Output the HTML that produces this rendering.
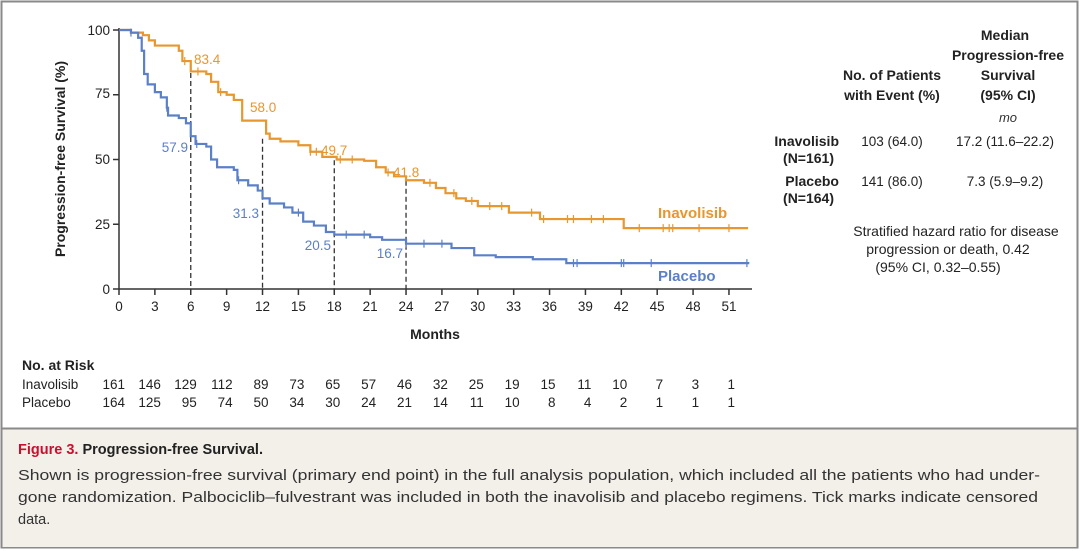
<!DOCTYPE html>
<html><head><meta charset="utf-8"><style>
body{margin:0;background:#fff;}
svg{display:block;font-family:"Liberation Sans",sans-serif;}
</style></head><body>
<svg id="s" width="1080" height="551" viewBox="0 0 1080 551" xmlns="http://www.w3.org/2000/svg">
<rect x="0" y="0" width="1080" height="551" fill="#fff"/>
<rect x="1.5" y="1.5" width="1076" height="546" fill="none" stroke="#8a8a8a" stroke-width="2"/>
<rect x="2.5" y="428.5" width="1074" height="118.5" fill="#f3efe9"/>
<line x1="1.5" y1="428.5" x2="1078" y2="428.5" stroke="#8a8a8a" stroke-width="2"/>
<g id="plot"></g>
<g font-size="13.5" fill="#222">
<text x="119" y="304" text-anchor="middle" id="xt"></text>
</g>
<text x="435" y="339" text-anchor="middle" font-size="14" font-weight="bold" fill="#222">Months</text>
<text transform="translate(65,159) rotate(-90)" text-anchor="middle" font-size="14" font-weight="bold" fill="#222">Progression-free Survival (%)</text>
<g font-size="13.5" fill="#222" text-anchor="end">
<text x="110" y="35">100</text><text x="110" y="98">75</text><text x="110" y="164">50</text><text x="110" y="229">25</text><text x="110" y="294">0</text>
</g>
<text x="658" y="218" font-size="15" font-weight="bold" fill="#e8962e">Inavolisib</text>
<text x="658" y="281" font-size="15" font-weight="bold" fill="#5b80c8">Placebo</text>
<g font-size="13.5" fill="#e8962e">
<text x="194" y="64">83.4</text><text x="250" y="112">58.0</text><text x="321" y="155">49.7</text><text x="393" y="177">41.8</text>
</g>
<g font-size="13.5" fill="#5b80c8" text-anchor="end">
<text x="188" y="152">57.9</text><text x="259" y="218">31.3</text><text x="331" y="250">20.5</text><text x="403" y="258">16.7</text>
</g>
<g font-size="14" fill="#222" font-weight="bold" text-anchor="middle">
<text x="1005" y="40">Median</text>
<text x="1008" y="60">Progression-free</text>
<text x="892" y="80">No. of Patients</text><text x="1008" y="80">Survival</text>
<text x="892" y="100">with Event (%)</text><text x="1008" y="100">(95% CI)</text>
</g>
<text x="1008" y="122" font-size="13" font-style="italic" fill="#333" text-anchor="middle">mo</text>
<g font-size="14" fill="#222" font-weight="bold" text-anchor="end">
<text x="839" y="146">Inavolisib</text><text x="834" y="163">(N=161)</text>
<text x="839" y="186">Placebo</text><text x="834" y="203">(N=164)</text>
</g>
<g font-size="13.5" fill="#222" text-anchor="middle">
<text x="892" y="146">103 (64.0)</text><text x="1005" y="146">17.2 (11.6–22.2)</text>
<text x="892" y="186">141 (86.0)</text><text x="1005" y="186">7.3 (5.9–9.2)</text>
</g>
<g font-size="14" fill="#222" text-anchor="middle">
<text x="956" y="236">Stratified hazard ratio for disease</text>
<text x="948" y="254">progression or death, 0.42</text>
<text x="938" y="272">(95% CI, 0.32–0.55)</text>
</g>
<text x="22" y="370" font-size="14" font-weight="bold" fill="#222">No. at Risk</text>
<text x="22" y="389" font-size="13.5" fill="#222">Inavolisib</text>
<text x="22" y="407" font-size="13.5" fill="#222">Placebo</text>
<g id="risk" font-size="13.5" fill="#222" text-anchor="end"></g>
<text x="18" y="454" font-size="14.5" font-weight="bold"><tspan fill="#c8102e">Figure 3.</tspan><tspan fill="#222"> Progression-free Survival.</tspan></text>
<g font-size="14.5" fill="#333">
<text x="18" y="480" textLength="1022" lengthAdjust="spacingAndGlyphs">Shown is progression-free survival (primary end point) in the full analysis population, which included all the patients who had under-</text>
<text x="18" y="502" textLength="1020" lengthAdjust="spacingAndGlyphs">gone randomization. Palbociclib–fulvestrant was included in both the inavolisib and placebo regimens. Tick marks indicate censored</text>
<text x="18" y="524">data.</text>
</g>
</svg>
<script>
var NS="http://www.w3.org/2000/svg";
function X(m){return 119+m*11.96;}
function Y(p){return 289-p*2.59;}
var g=document.getElementById('plot');
function el(t,a,p){var e=document.createElementNS(NS,t);for(var k in a)e.setAttribute(k,a[k]);(p||g).appendChild(e);return e;}
el('line',{x1:119,y1:28,x2:119,y2:289,stroke:'#333','stroke-width':1.5});
el('line',{x1:119,y1:289,x2:752,y2:289,stroke:'#333','stroke-width':1.5});
[0,25,50,75,100].forEach(function(p){el('line',{x1:113,y1:Y(p),x2:119,y2:Y(p),stroke:'#333','stroke-width':1.5});});
var xl=document.getElementById('xt').parentNode;
for(var m=0;m<=51;m+=3){el('line',{x1:X(m),y1:289,x2:X(m),y2:295,stroke:'#333','stroke-width':1.5});
var t=el('text',{x:X(m),y:311,'text-anchor':'middle'},xl);t.textContent=m;}
[[6,83.4],[12,58],[18,49.7],[24,41.8]].forEach(function(d){el('line',{x1:X(d[0]),y1:Y(d[1]),x2:X(d[0]),y2:289,stroke:'#333','stroke-width':1.3,'stroke-dasharray':'5,3'});});
function step(pts,col,cens){var d='M'+X(pts[0][0])+','+Y(pts[0][1]);
for(var i=1;i<pts.length;i++){d+=' H'+X(pts[i][0])+' V'+Y(pts[i][1]);}
el('path',{d:d,fill:'none',stroke:col,'stroke-width':2.2});
cens.forEach(function(c){var v=val(pts,c);el('line',{x1:X(c),y1:Y(v)-4,x2:X(c),y2:Y(v)+4,stroke:col,'stroke-width':1.2});});}
function val(p,m){var v=p[0][1];for(var i=0;i<p.length;i++){if(p[i][0]<=m)v=p[i][1];}return v;}
var inv=[[0,100],[1,99],[2,98],[2.5,96],[3,94],[5,92],[5.3,88],[6,84],[7.3,83],[7.7,80],[8.3,76],[9,75],[9.6,73],[10.3,65],[11.8,65],[12.3,60],[12.6,58],[13.5,57],[15,55.5],[16,53],[17,51],[18.2,50],[20.5,49.5],[21.5,47],[22.3,45],[23,43.5],[24,42],[25.5,41],[26.5,39],[27.3,37],[28.2,35],[29,34],[30,32],[32.4,32],[32.6,29.5],[35,29.5],[35.2,27],[42,27],[42.2,23.5],[52.6,23.5]];
var pla=[[0,100],[1,99],[1.6,97],[1.9,92],[2.1,83],[2.4,79],[3,76],[3.5,74],[4,70],[4.1,67],[5,66],[5.6,64],[6,59],[6.4,56],[7.3,55],[7.7,50],[8.2,47],[9.6,46],[9.9,42],[10.8,40],[11.6,38],[12,35],[12.6,33],[13.8,31.5],[14.5,29.5],[15.4,26],[16.3,24.5],[17.3,22],[18,21],[21,20],[22,19],[24,17.5],[27.6,17.5],[27.8,15.8],[29.5,15.8],[29.7,13],[31.3,13],[31.5,12.3],[34.4,12.3],[34.6,11.5],[37.2,11.5],[37.4,10],[52.7,10]];
step(inv,'#e8962e',[5.5,6.6,8.5,16,16.5,18.5,19.5,22.5,26,28,29.5,31,32,34.5,35.5,37.5,38,39.5,40.5,43.5,45.5,46,46.3,48.5,51]);
step(pla,'#5b80c8',[1,4,6.5,10,15,19,20.5,24,25.5,27,38,38.3,42,42.2,44.5,52.5]);
var ri=[161,146,129,112,89,73,65,57,46,32,25,19,15,11,10,7,3,1],rp=[164,125,95,74,50,34,30,24,21,14,11,10,8,4,2,1,1,1];
var rg=document.getElementById('risk');
for(var i=0;i<18;i++){var a=el('text',{x:X(i*3)+6,y:389},rg);a.textContent=ri[i];var b=el('text',{x:X(i*3)+6,y:407},rg);b.textContent=rp[i];}
</script>
</body></html>
